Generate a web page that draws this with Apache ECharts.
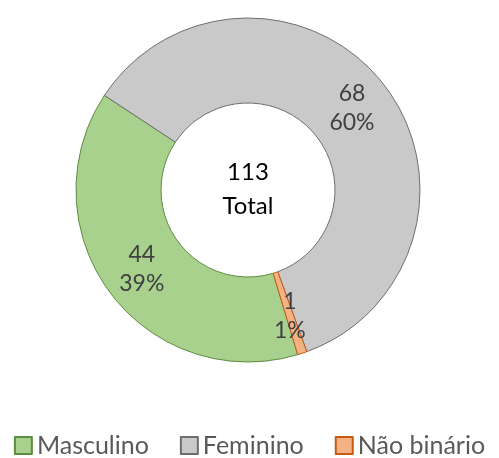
<!DOCTYPE html>
<html>
<head>
<meta charset="utf-8">
<script src="https://cdn.jsdelivr.net/npm/echarts@6/dist/echarts.min.js"></script>
<style>
  html, body { margin: 0; padding: 0; background: #fff; }
  #main { width: 499px; height: 458px; }
</style>
</head>
<body>
<div id="main"></div>
<script>
// dados do gráfico
var categorias = ['Masculino', 'Feminino', 'Não binário'];
var valores = [44, 68, 1];

var cores = ['#A9D18E', '#C9C9C9', '#F4B183'];
var bordas = ['#5E8C3E', '#6E6E6E', '#C55A11'];
var fonte = 'Lato, "Open Sans", sans-serif';

var total = valores.reduce(function (a, b) { return a + b; }, 0);

var myChart = echarts.init(document.getElementById('main'));
myChart.setOption({
  animation: false,
  legend: {
    data: categorias,
    left: 'center',
    top: 433,
    padding: 0,
    icon: 'rect',
    itemWidth: 17,
    itemHeight: 17,
    itemGap: 31,
    textStyle: { color: '#595959', fontSize: 25, fontFamily: fonte }
  },
  graphic: [{
    type: 'text',
    x: 248,
    y: 189,
    style: {
      text: total + '\nTotal',
      align: 'center',
      verticalAlign: 'middle',
      fill: '#000',
      fontSize: 24,
      lineHeight: 34,
      fontFamily: fonte
    }
  }],
  series: [{
    type: 'pie',
    center: [248, 190],
    radius: [87, 172],
    startAngle: 286.8,
    clockwise: true,
    avoidLabelOverlap: false,
    label: {
      show: true,
      position: 'inside',
      color: '#404040',
      fontSize: 23,
      lineHeight: 29,
      fontFamily: fonte,
      formatter: function (p) {
        return p.value + '\n' + Math.round(p.percent) + '%';
      }
    },
    labelLine: { show: false },
    emphasis: { disabled: true },
    data: categorias.map(function (c, i) {
      return {
        name: c,
        value: valores[i],
        itemStyle: { color: cores[i], borderColor: bordas[i], borderWidth: 1 }
      };
    })
  }]
});
</script>
</body>
</html>
